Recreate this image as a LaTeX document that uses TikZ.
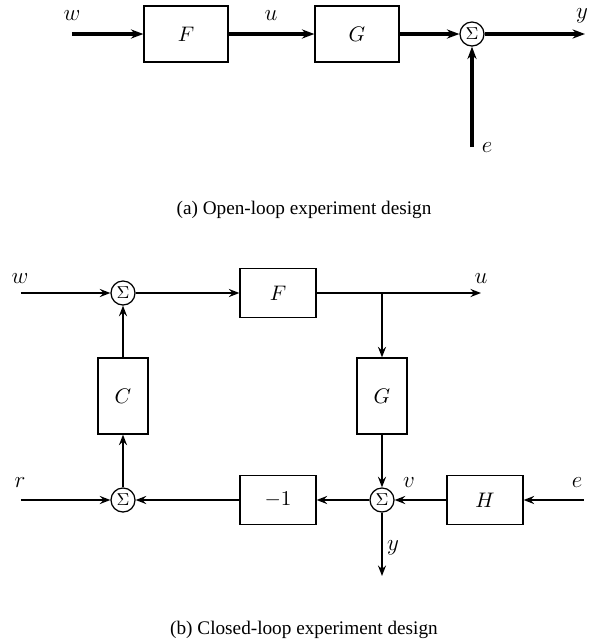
\documentclass[tikz,border=0pt]{standalone}
\usepackage{fontspec}
\setmainfont{Liberation Serif}
\usetikzlibrary{arrows.meta}

\begin{document}
\begin{tikzpicture}[x=0.52pt, y=-0.52pt,
    blk/.style={draw, line width=0.65pt, inner sep=0pt, font=\fontsize{11}{13}\selectfont},
    topblk/.style={blk, minimum width=43.7pt, minimum height=29.1pt},
    wideblk/.style={blk, minimum width=39.5pt, minimum height=25.5pt, font=\fontsize{10.5}{12}\selectfont},
    tallblk/.style={blk, minimum width=26pt, minimum height=39.5pt, font=\fontsize{10.5}{12}\selectfont},
    sumnode/.style={draw, circle, line width=0.65pt, inner sep=0pt, minimum size=12.5pt, font=\fontsize{9.5}{10}\selectfont},
    lbl/.style={inner sep=0pt, font=\fontsize{12.8}{15}\selectfont},
    capt/.style={inner sep=0pt, font=\fontsize{10}{12}\selectfont},
    siga/.style={line width=1.7pt, -{Stealth[length=6.5pt, width=4.8pt, inset=2.2pt]}},
    sigb/.style={line width=1.4pt, -{Stealth[length=5.5pt, width=4.2pt, inset=1.9pt]}}]
    \useasboundingbox (0,0) rectangle (607,642);

    % (a) Open loop
    \coordinate (wa) at (72,34);
    \node[topblk] (Fa) at (186,34) {$F$};
    \node[topblk] (Ga) at (357,34) {$G$};
    \node[sumnode] (Sa) at (472,34) {$\Sigma$};
    \coordinate (ya) at (585,34);
    \coordinate (ea) at (472,147);

    \draw[siga] (wa) -- (Fa);
    \draw[siga] (Fa) -- (Ga);
    \draw[siga] (Ga) -- (Sa);
    \draw[siga] (Sa) -- (ya);
    \draw[siga] (ea) -- (Sa);

    % Signal labels
    \node[lbl] (wla) at (72,16) {$w$};
    \node[lbl] (ula) at (271,16) {$u$};
    \node[lbl] (yla) at (582,16) {$y$};
    \node[lbl] (ela) at (487,148) {$e$};

    \node[capt] (capa) at (304,210) {(a) Open-loop experiment design};

    % (b) Closed loop
    % Upper branch
    \coordinate (wb) at (21,293);
    \node[sumnode] (S1) at (123,293) {$\Sigma$};
    \node[wideblk] (Fb) at (278,293) {$F$};
    \coordinate (br) at (382,293);
    \coordinate (ub) at (481,293);

    % Vertical blocks
    \node[tallblk] (Cb) at (123,396) {$C$};
    \node[tallblk] (Gb) at (382,396) {$G$};

    % Lower branch
    \coordinate (rb) at (21,500);
    \node[sumnode] (S2) at (123,500) {$\Sigma$};
    \node[wideblk] (Nb) at (278,500) {$-1$};
    \node[sumnode] (S3) at (382,500) {$\Sigma$};
    \node[wideblk] (Hb) at (485,500) {$H$};
    \coordinate (eb) at (584,500);
    \coordinate (yb) at (382,576);

    \draw[sigb] (wb) -- (S1);
    \draw[sigb] (S1) -- (Fb);
    \draw[sigb] (Fb) -- (br) -- (ub);
    \draw[sigb] (br) -- (Gb);
    \draw[sigb] (Gb) -- (S3);
    \draw[sigb] (eb) -- (Hb);
    \draw[sigb] (Hb) -- (S3);
    \draw[sigb] (S3) -- (Nb);
    \draw[sigb] (Nb) -- (S2);
    \draw[sigb] (rb) -- (S2);
    \draw[sigb] (S2) -- (Cb);
    \draw[sigb] (Cb) -- (S1);
    \draw[sigb] (S3) -- (yb);

    % Signal labels
    \node[lbl] (wlb) at (20,279) {$w$};
    \node[lbl] (ulb) at (481,279) {$u$};
    \node[lbl] (rlb) at (20,483) {$r$};
    \node[lbl] (vlb) at (409,483) {$v$};
    \node[lbl] (elb) at (577,483) {$e$};
    \node[lbl] (ylb) at (393,548) {$y$};

    \node[capt] (capb) at (304,630) {(b) Closed-loop experiment design};
\end{tikzpicture}
\end{document}
